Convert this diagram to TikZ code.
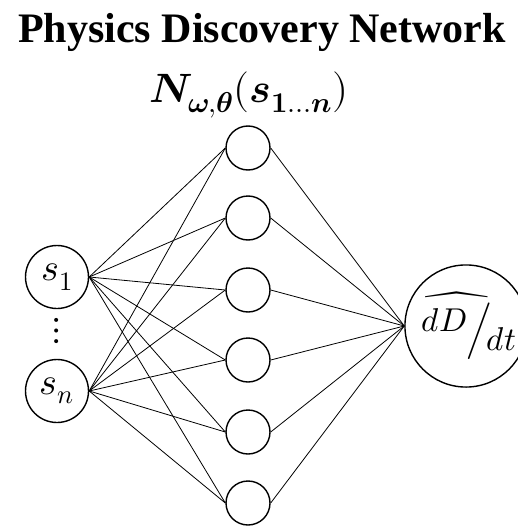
\documentclass[tikz,border=0pt]{standalone}
\usepackage{amsmath}
\usepackage{fontspec}
\usepackage{unicode-math}
\setmainfont{Liberation Serif}
\setmathfont{Latin Modern Math}
\usetikzlibrary{positioning}

\begin{document}
\begin{tikzpicture}[x=1pt,y=-1pt,
  neuron/.style={draw,circle,line width=1.4pt,inner sep=0pt},
  input/.style={neuron,minimum size=63pt,font=\fontsize{38}{40}\selectfont},
  hidden/.style={neuron,minimum size=44pt},
  output/.style={neuron,minimum size=112pt,font=\fontsize{33}{36}\selectfont},
  link/.style={line width=0.8pt}
]
\useasboundingbox (0,0) rectangle (517,527);
\node[font=\fontsize{42}{46}\selectfont\bfseries,anchor=base] (title) at (262,42) {Physics Discovery Network};
\node[font=\fontsize{41}{44}\selectfont,anchor=base] (net) at (249,102)
  {$\symbfit{N}_{\symbfit{\omega},\symbfit{\theta}}(\symbfit{s}_{\symbf{1}\ldots\symbfit{n}})$};
\node[input] (s1) at (57,277) {$s_1$};
\node[input] (sn) at (57,391) {$s_n$};
\node[font=\fontsize{38}{40}\selectfont,inner sep=0pt] (dots) at (57,331) {$\vdots$};
\foreach \i/\y in {1/148,2/218,3/290,4/360,5/432,6/503}
  \node[hidden] (h\i) at (248,\y) {};
\node[output] (out) at (466,326) {\hspace{6pt}$\widehat{\raisebox{8pt}{$dD$}\Big/}\!\raisebox{-11pt}{$dt$}$};
\foreach \i in {1,...,6} {
  \draw[link] (s1.east) -- (h\i.west);
  \draw[link] (sn.east) -- (h\i.west);
  \draw[link] (h\i.east) -- (out.west);
}
\end{tikzpicture}
\end{document}
